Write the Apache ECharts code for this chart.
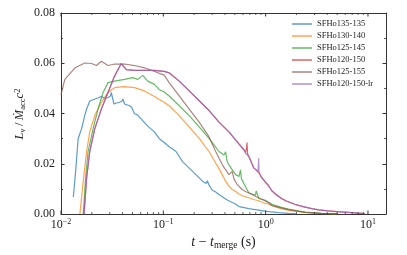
<!DOCTYPE html>
<html><head><meta charset="utf-8">
<script src="https://cdn.jsdelivr.net/npm/echarts@6/dist/echarts.min.js"></script>
<style>html,body{margin:0;padding:0;background:#fff}#c{width:407px;height:255px}</style>
</head><body><div id="c"></div>
<script>
const seriesNames = ['SFHo135-135','SFHo130-140','SFHo125-145','SFHo120-150','SFHo125-155','SFHo120-150-lr'];
const colors = ['#1f77b4','#ff7f0e','#2ca02c','#d62728','#8c564b','#9467bd'];
const xTickValues = [0.01, 0.1, 1, 10];
const yTickLabels = ['0.00','0.02','0.04','0.06','0.08'];
const xMinorTicks = [0.02,0.03,0.04,0.05,0.06,0.07,0.08,0.09,0.2,0.3,0.4,0.5,0.6,0.7,0.8,0.9,2,3,4,5,6,7,8,9];

const d135_135 = [[0.0132,0.0068],[0.0139,0.017],[0.0147,0.030],[0.0159,0.034],[0.0170,0.039],[0.0178,0.0418],[0.0191,0.045],[0.0222,0.046],[0.0248,0.0468],[0.0270,0.0460],[0.0288,0.0464],[0.0305,0.0470],[0.0310,0.0484],[0.0329,0.0438],[0.0350,0.0442],[0.0374,0.0445],[0.0395,0.0450],[0.0403,0.0458],[0.0418,0.0438],[0.0468,0.0431],[0.0490,0.0425],[0.0523,0.0399],[0.0560,0.0395],[0.0607,0.0379],[0.0704,0.035],[0.0818,0.0327],[0.0914,0.030],[0.102,0.0285],[0.114,0.0268],[0.133,0.0249],[0.154,0.0209],[0.179,0.0183],[0.208,0.0157],[0.241,0.0131],[0.262,0.0122],[0.269,0.0133],[0.280,0.0115],[0.301,0.0095],[0.320,0.0090],[0.350,0.0078],[0.360,0.0084],[0.406,0.0060],[0.450,0.0050],[0.508,0.0040],[0.547,0.0030],[0.60,0.0027],[0.684,0.0022],[0.855,0.0016],[1.07,0.0010],[1.34,0.0006],[1.67,0.0003],[2.0,0.0001]];
const d130_140 = [[0.0153,0],[0.0165,0.0131],[0.0178,0.0249],[0.0191,0.0327],[0.0214,0.0392],[0.0248,0.0445],[0.0288,0.0484],[0.0334,0.0503],[0.0418,0.0507],[0.0523,0.0503],[0.0654,0.049],[0.0818,0.0468],[0.0914,0.0456],[0.102,0.0445],[0.114,0.0431],[0.143,0.0392],[0.179,0.0347],[0.224,0.0301],[0.280,0.0249],[0.325,0.0203],[0.363,0.0170],[0.406,0.0131],[0.440,0.0110],[0.471,0.0098],[0.510,0.0090],[0.547,0.0080],[0.60,0.0072],[0.684,0.0065],[0.76,0.0058],[0.855,0.0053],[0.95,0.0045],[1.07,0.0039],[1.34,0.0025],[1.67,0.0015],[2.4,0.0007],[3.3,0.0003],[5.0,0.0001]];
const d125_145 = [[0.0165,0],[0.0174,0.0144],[0.0184,0.0249],[0.0206,0.034],[0.0230,0.0418],[0.0258,0.0484],[0.0288,0.0523],[0.0334,0.0529],[0.0418,0.0536],[0.0504,0.0543],[0.0563,0.0536],[0.0629,0.0552],[0.0704,0.0529],[0.0818,0.0516],[0.0914,0.0495],[0.102,0.0486],[0.114,0.047],[0.143,0.0431],[0.179,0.0392],[0.224,0.0347],[0.280,0.0301],[0.350,0.0249],[0.392,0.0235],[0.406,0.0248],[0.420,0.0210],[0.4375,0.0196],[0.508,0.0157],[0.550,0.0150],[0.568,0.0176],[0.580,0.0140],[0.635,0.0110],[0.684,0.0085],[0.740,0.0080],[0.794,0.0075],[0.810,0.0092],[0.855,0.0062],[0.993,0.0055],[1.15,0.0039],[1.40,0.0028],[1.67,0.0020],[2.43,0.0007],[3.5,0.0003],[5.1,0.0001]];
const d120_150 = [[0.0168,0],[0.0178,0.0144],[0.0191,0.0249],[0.0214,0.034],[0.0248,0.0418],[0.0288,0.0484],[0.0334,0.0549],[0.0388,0.0599],[0.0435,0.0575],[0.0523,0.0572],[0.0654,0.0572],[0.0818,0.0572],[0.102,0.0568],[0.114,0.0562],[0.143,0.0529],[0.179,0.049],[0.224,0.0451],[0.280,0.0412],[0.350,0.0366],[0.4375,0.0327],[0.547,0.0280],[0.58,0.0268],[0.61,0.0258],[0.635,0.0245],[0.650,0.0262],[0.658,0.0285],[0.665,0.0240],[0.70,0.0222],[0.735,0.0200],[0.764,0.0185],[0.80,0.0178],[0.855,0.0165],[0.90,0.0150],[0.95,0.0138],[1.0,0.0125],[1.05,0.0118],[1.07,0.0124],[1.15,0.0092],[1.25,0.0080],[1.30,0.0086],[1.44,0.0062],[1.6,0.0052],[1.94,0.0039],[2.3,0.0030],[2.82,0.0022],[3.3,0.0017],[4.09,0.0013],[5.1,0.0010],[6.4,0.0007],[8.0,0.0004],[9.3,0.0002]];
const d125_155 = [[0.010,0.0474],[0.0109,0.0536],[0.0137,0.0582],[0.0171,0.0601],[0.0199,0.0599],[0.0222,0.0591],[0.0248,0.0608],[0.0288,0.0591],[0.0334,0.0597],[0.0418,0.0597],[0.0523,0.0591],[0.0654,0.0582],[0.0818,0.0568],[0.0914,0.0560],[0.102,0.0553],[0.114,0.0523],[0.143,0.047],[0.179,0.0418],[0.224,0.0366],[0.280,0.0307],[0.325,0.0249],[0.377,0.0196],[0.4375,0.0157],[0.471,0.0170],[0.490,0.0140],[0.526,0.0118],[0.589,0.0098],[0.65,0.0088],[0.736,0.0078],[0.80,0.0070],[0.921,0.0059],[1.07,0.0045],[1.15,0.0034],[1.67,0.0018],[2.43,0.0008],[3.5,0.0003],[5.1,0.0001]];
const d120_150_lr = [[0.0168,0],[0.0178,0.0144],[0.0191,0.0249],[0.0214,0.034],[0.0248,0.0418],[0.0288,0.0484],[0.0334,0.0549],[0.0388,0.0599],[0.0435,0.0575],[0.0523,0.0572],[0.0654,0.0572],[0.0818,0.0572],[0.102,0.0568],[0.114,0.0562],[0.143,0.0529],[0.179,0.049],[0.224,0.0451],[0.280,0.0412],[0.350,0.0366],[0.4375,0.0327],[0.547,0.0278],[0.58,0.0266],[0.61,0.0256],[0.635,0.0243],[0.68,0.0230],[0.72,0.0208],[0.764,0.0183],[0.80,0.0176],[0.84,0.0168],[0.850,0.0200],[0.855,0.0222],[0.860,0.0170],[0.90,0.0148],[0.95,0.0136],[1.0,0.0127],[1.05,0.0115],[1.15,0.0094],[1.25,0.0078],[1.44,0.0060],[1.6,0.0051],[1.94,0.0038],[2.3,0.0031],[2.82,0.0022],[3.3,0.0017],[4.09,0.0013],[5.1,0.0009],[6.4,0.0007],[8.0,0.0004],[9.3,0.0002]];
const allData = [d135_135, d130_140, d125_145, d120_150, d125_155, d120_150_lr];

const serif = 'Liberation Serif';
const axisCol = '#333';
const txtCol = '#222';
const chart = echarts.init(document.getElementById('c'), null, {renderer:'canvas'});
const lineSeries = allData.map((d,i)=>({
  type:'line', name: seriesNames[i], data: d, symbol:'none', showSymbol:false,
  xAxisIndex:0, yAxisIndex:0,
  lineStyle:{color: colors[i], width:1.2, opacity:0.72}, itemStyle:{color: colors[i], opacity:0.72},
  z: 2+i, animation:false
}));
const tickData = xTickValues.map(v=>[v,0.04,1]).concat(xMinorTicks.map(v=>[v,0.04,0]));
const tickSeries = {
  type:'custom', name:'ticks', silent:true, animation:false, clip:false, z:10,
  xAxisIndex:0, yAxisIndex:0,
  data: tickData,
  encode:{x:0,y:1},
  renderItem:(params, api)=>{
    const cs = params.coordSys;
    const t = api.value(0);
    const major = api.value(2) === 1;
    const px = api.coord([t,0.04])[0];
    const yb = cs.y + cs.height, yt = cs.y;
    const len = major ? 3.5 : 2;
    const st = {stroke: axisCol, lineWidth: major ? 1 : 0.8};
    return {type:'group', children:[
      {type:'line', shape:{x1:px,y1:yb,x2:px,y2:yb-len}, style:st},
      {type:'line', shape:{x1:px,y1:yt,x2:px,y2:yt+len}, style:st}
    ]};
  }
};
function logLabel(v){
  if (!xTickValues.some(x=>Math.abs(x-v)/x<1e-6)) return '';
  const e = Math.round(Math.log10(v));
  return '{b|10}{s|'+String(e).replace('-','−')+'}';
}
const commonAxisLine = {show:true, onZero:false, lineStyle:{color:axisCol, width:1}};
const option = {
  backgroundColor:'#fff',
  animation:false,
  grid:{left:61, right:21, top:13, bottom:39, containLabel:false},
  legend:{
    data: seriesNames, orient:'vertical', left:292, top:18, padding:0,
    icon:'rect', itemWidth:20, itemHeight:1.5, itemGap:0,
    textStyle:{fontFamily:serif, fontSize:8.5, color:txtCol, lineHeight:12, height:12}
  },
  graphic:[
    {type:'text', x:20, y:114, rotation:Math.PI/2, z:20,
     style:{text:'{i|L}{s|ν}{n|\u2009/\u2009}{i|Ṁ}{s|acc}{i|c}{p|2}', align:'center', verticalAlign:'middle', fill:txtCol, font:'12px '+serif, rich:{
      i:{fontFamily:serif, fontStyle:'italic', fontSize:12.5, fill:txtCol},
      n:{fontFamily:serif, fontSize:12.5, fill:txtCol},
      s:{fontFamily:serif, fontSize:8.5, fill:txtCol, verticalAlign:'bottom', padding:[5,0,0,0]},
      p:{fontFamily:serif, fontSize:8.5, fill:txtCol, verticalAlign:'top', padding:[0,0,5,0]}
     }}},
  ],
  xAxis:[{
    type:'log', logBase:10, min:0.01, max:15, position:'bottom',
    name:'{i|t} − {i|t}{s|merge} (s)', nameLocation:'middle', nameGap:20,
    nameTextStyle:{fontFamily:serif, fontSize:14, color:txtCol, rich:{
      i:{fontFamily:serif, fontStyle:'italic', fontSize:14, color:txtCol},
      s:{fontFamily:serif, fontSize:9.5, color:txtCol, verticalAlign:'bottom', padding:[5,0,0,0]}
    }},
    axisLine:commonAxisLine,
    axisTick:{show:false},
    splitLine:{show:false}, minorTick:{show:false},
    axisLabel:{margin:4, formatter:logLabel, color:txtCol, fontFamily:serif, rich:{
      b:{fontFamily:serif, fontSize:12, color:txtCol},
      s:{fontFamily:serif, fontSize:8, color:txtCol, verticalAlign:'top', padding:[0,0,5,0]}
    }}
  },{
    type:'value', min:0, max:1, position:'top',
    axisLine:commonAxisLine, axisTick:{show:false},
    axisLabel:{show:false}, splitLine:{show:false}
  }],
  yAxis:[{
    type:'value', min:0, max:0.08, interval:0.02, position:'left',
    axisLine:commonAxisLine,
    axisTick:{show:true, inside:true, length:3.5, lineStyle:{color:axisCol, width:1}},
    minorTick:{show:true, splitNumber:2, length:2, lineStyle:{color:axisCol, width:0.8}},
    splitLine:{show:false}, minorSplitLine:{show:false},
    axisLabel:{margin:6, color:txtCol, fontFamily:serif, fontSize:12, formatter:(v)=>yTickLabels[Math.round(v/0.02)]}
  },{
    type:'value', min:0, max:0.08, interval:0.02, position:'right',
    axisLine:commonAxisLine,
    axisTick:{show:true, inside:true, length:3.5, lineStyle:{color:axisCol, width:1}},
    minorTick:{show:true, splitNumber:2, length:2, lineStyle:{color:axisCol, width:0.8}},
    splitLine:{show:false}, axisLabel:{show:false}
  }],
  series: lineSeries.concat([tickSeries])
};
chart.setOption(option);
</script></body></html>
